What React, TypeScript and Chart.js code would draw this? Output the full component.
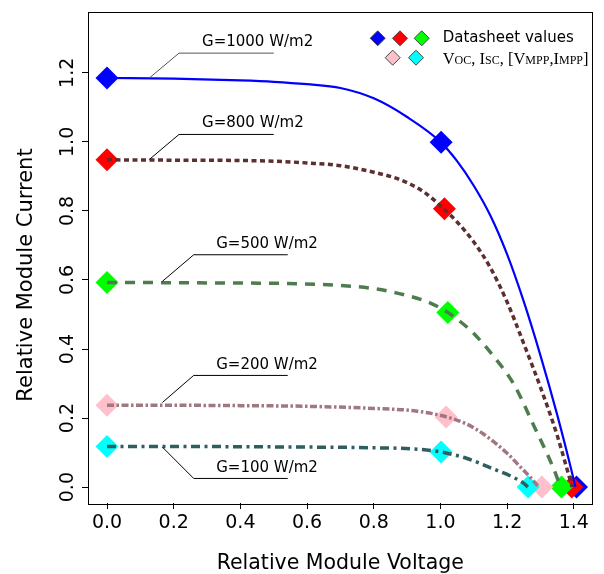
import React, { useEffect, useRef } from "react";
import { Chart, registerables } from "chart.js";

Chart.register(...registerables);

// ---------- data ----------
const xTicks = [0, 0.2, 0.4, 0.6, 0.8, 1.0, 1.2, 1.4];
const yTicks = [0, 0.2, 0.4, 0.6, 0.8, 1.0, 1.2];

const seriesLabels = ["G=1000 W/m2", "G=800 W/m2", "G=500 W/m2", "G=200 W/m2", "G=100 W/m2"];

const v1000 = [0, 0.2, 0.4, 0.5, 0.6, 0.7, 0.8, 0.9, 1.0, 1.05, 1.1, 1.15, 1.2, 1.25, 1.3, 1.35, 1.39, 1.405];
const i1000 = [1.185, 1.183, 1.178, 1.174, 1.167, 1.156, 1.126, 1.072, 1.0, 0.944, 0.873, 0.786, 0.674, 0.537, 0.381, 0.21, 0.06, 0.0];

const v800 = [0, 0.2, 0.4, 0.5, 0.6, 0.7, 0.8, 0.88, 0.95, 1.01, 1.05, 1.1, 1.15, 1.2, 1.25, 1.3, 1.35, 1.395];
const i800 = [0.948, 0.947, 0.946, 0.944, 0.939, 0.931, 0.912, 0.89, 0.855, 0.806, 0.768, 0.71, 0.635, 0.536, 0.415, 0.289, 0.15, 0.0];

const v500 = [0, 0.2, 0.4, 0.53, 0.7, 0.8, 0.9, 0.97, 1.02, 1.06, 1.1, 1.16, 1.22, 1.28, 1.34, 1.36];
const i500 = [0.593, 0.592, 0.591, 0.59, 0.584, 0.575, 0.555, 0.533, 0.507, 0.479, 0.445, 0.378, 0.298, 0.178, 0.052, 0.0];

const v200 = [0, 0.2, 0.4, 0.6, 0.8, 0.93, 1.02, 1.08, 1.13, 1.2, 1.24, 1.27, 1.295];
const i200 = [0.237, 0.237, 0.236, 0.234, 0.228, 0.22, 0.203, 0.182, 0.153, 0.098, 0.058, 0.028, 0.0];

const v100 = [0, 0.2, 0.4, 0.6, 0.8, 0.93, 1.0, 1.08, 1.155, 1.215, 1.25, 1.262];
const i100 = [0.118, 0.118, 0.117, 0.116, 0.114, 0.11, 0.102, 0.083, 0.054, 0.03, 0.011, 0.0];

// datasheet points (Isc at V=0, MPP, Voc at I=0)
const iscValues = [1.185, 0.948, 0.593, 0.237, 0.118];
const vmppValues = [1.002, 1.012, 1.022, 1.017, 1.002];
const imppValues = [0.999, 0.806, 0.506, 0.203, 0.102];
const vocValues = [1.408, 1.394, 1.363, 1.304, 1.263];

// ---------- styles ----------
const markerColors = ["#0000FF", "#FF0000", "#00FF00", "#FFC0CB", "#00FFFF"];
const lineColors = ["#0000FF", "#5C3030", "#4E7C4E", "#A07880", "#2E5E5E"];
const lineWidths = [2.2, 3.5, 3.5, 3.5, 3.5];
const lineDashes: number[][] = [[], [5, 3.5], [10, 8], [7, 2.5, 2.5, 2.5], [9, 4.5, 3, 4.5]];

// annotation geometry in data units: anchor -> elbow -> end, text position
const annotations = [
  { ax: 0.127, ay: 1.185, ex: 0.216, ey: 1.257, endX: 0.5, tx: 0.285, ty: 1.289, color: "#555" },
  { ax: 0.127, ay: 0.949, ex: 0.216, ey: 1.0215, endX: 0.5, tx: 0.285, ty: 1.055, color: "#000" },
  { ax: 0.166, ay: 0.596, ex: 0.26, ey: 0.673, endX: 0.542, tx: 0.3276, ty: 0.705, color: "#000" },
  { ax: 0.166, ay: 0.245, ex: 0.26, ey: 0.3235, endX: 0.542, tx: 0.3276, ty: 0.354, color: "#000" },
  { ax: 0.166, ay: 0.116, ex: 0.26, ey: 0.0251, endX: 0.542, tx: 0.3276, ty: 0.054, color: "#000" },
];

const curveV = [v1000, v800, v500, v200, v100];
const curveI = [i1000, i800, i500, i200, i100];

const SANS = "'DejaVu Sans', sans-serif";
const SERIF = "'Liberation Serif', 'DejaVu Serif', serif";

const overlayPlugin = {
  id: "overlay",
  afterDraw(chart: any) {
    const ctx = chart.ctx as CanvasRenderingContext2D;
    const { left, right, top, bottom } = chart.chartArea;
    const xs = chart.scales.x;
    const ys = chart.scales.y;
    ctx.save();

    // frame
    ctx.strokeStyle = "#000";
    ctx.lineWidth = 1;
    ctx.strokeRect(Math.round(left) + 0.5, Math.round(top) + 0.5, Math.round(right - left) - 1, Math.round(bottom - top));

    // y tick labels (rotated)
    ctx.fillStyle = "#000";
    ctx.font = `19px ${SANS}`;
    ctx.textAlign = "center";
    ctx.textBaseline = "middle";
    yTicks.forEach((v) => {
      const py = ys.getPixelForValue(v);
      ctx.save();
      ctx.translate(left - 20, py);
      ctx.rotate(-Math.PI / 2);
      ctx.fillText(v.toFixed(1), 0, 0);
      ctx.restore();
    });

    // axis titles
    ctx.font = `20.5px ${SANS}`;
    ctx.fillText("Relative Module Voltage", (left + right) / 2, 564);
    ctx.save();
    ctx.translate(27, 275);
    ctx.rotate(-Math.PI / 2);
    ctx.font = `21px ${SANS}`;
    ctx.fillText("Relative Module Current", 0, 0);
    ctx.restore();

    // curve annotations
    ctx.font = `15px ${SANS}`;
    ctx.textAlign = "left";
    annotations.forEach((a, k) => {
      ctx.lineWidth = 1;
      ctx.strokeStyle = a.color;
      ctx.beginPath();
      ctx.moveTo(xs.getPixelForValue(a.ax), ys.getPixelForValue(a.ay));
      ctx.lineTo(xs.getPixelForValue(a.ex), ys.getPixelForValue(a.ey));
      ctx.lineTo(xs.getPixelForValue(a.endX), ys.getPixelForValue(a.ey));
      ctx.stroke();
      ctx.fillStyle = "#000";
      ctx.fillText(seriesLabels[k], xs.getPixelForValue(a.tx), ys.getPixelForValue(a.ty));
    });

    // legend
    const diamond = (cx: number, cy: number, r: number, fill: string) => {
      ctx.beginPath();
      ctx.moveTo(cx - r, cy);
      ctx.lineTo(cx, cy - r);
      ctx.lineTo(cx + r, cy);
      ctx.lineTo(cx, cy + r);
      ctx.closePath();
      ctx.fillStyle = fill;
      ctx.fill();
      ctx.strokeStyle = "#444";
      ctx.lineWidth = 1;
      ctx.stroke();
    };
    diamond(377.7, 38.3, 7.5, markerColors[0]);
    diamond(400, 38.3, 7.5, markerColors[1]);
    diamond(421.7, 38.3, 7.5, markerColors[2]);
    diamond(392.7, 57.7, 7.5, markerColors[3]);
    diamond(416, 57.7, 7.5, markerColors[4]);

    ctx.fillStyle = "#000";
    ctx.font = `15px ${SANS}`;
    ctx.textBaseline = "middle";
    ctx.fillText("Datasheet values", 442.7, 38.5);

    const segs: [string, boolean][] = [
      ["V", false], ["OC", true], [", I", false], ["SC", true], [", [V", false],
      ["MPP", true], [",I", false], ["MPP", true], ["]", false],
    ];
    ctx.textBaseline = "alphabetic";
    let tx = 442.7;
    const base = 63.5;
    segs.forEach(([s, small]) => {
      ctx.font = small ? `12px ${SERIF}` : `16.5px ${SERIF}`;
      ctx.fillText(s, tx, base);
      tx += ctx.measureText(s).width;
    });

    ctx.restore();
  },
};

export default function App() {
  const ref = useRef<HTMLCanvasElement | null>(null);

  useEffect(() => {
    if (!ref.current) return;
    const datasets: any[] = [];
    // curves (drawn on top of markers: low order)
    curveV.forEach((vs, k) => {
      datasets.push({
        type: "line",
        label: seriesLabels[k],
        data: vs.map((v, j) => ({ x: v, y: curveI[k][j] })),
        borderColor: lineColors[k],
        borderWidth: lineWidths[k],
        borderDash: lineDashes[k],
        borderCapStyle: "butt",
        pointRadius: 0,
        fill: false,
        cubicInterpolationMode: "monotone",
        order: k,
      });
    });
    // datasheet markers
    markerColors.forEach((c, k) => {
      datasets.push({
        type: "scatter",
        label: "datasheet " + seriesLabels[k],
        data: [
          { x: 0, y: iscValues[k] },
          { x: vmppValues[k], y: imppValues[k] },
          { x: vocValues[k], y: 0 },
        ],
        pointStyle: "rectRot",
        pointRadius: 11.5,
        pointHoverRadius: 11.5,
        backgroundColor: c,
        borderWidth: 0,
        showLine: false,
        clip: false,
        order: 20 - k,
      });
    });

    const chart = new Chart(ref.current, {
      type: "line",
      data: { datasets },
      options: {
        animation: false,
        responsive: false,
        events: [],
        layout: { padding: { top: 10, right: 6, left: 0, bottom: 0 } },
        plugins: { legend: { display: false }, tooltip: { enabled: false } },
        scales: {
          x: {
            type: "linear",
            min: -0.057,
            max: 1.456,
            afterBuildTicks: (s: any) => {
              s.ticks = xTicks.map((v) => ({ value: v }));
            },
            afterFit: (s: any) => {
              s.height = 71;
            },
            grid: { display: true, drawOnChartArea: false, drawTicks: true, tickLength: 6, color: "#000", lineWidth: 1 },
            border: { display: false },
            ticks: {
              color: "#000",
              font: { family: "DejaVu Sans", size: 19 },
              padding: 3,
              maxRotation: 0,
              autoSkip: false,
              callback: (v: any) => Number(v).toFixed(1),
            },
          },
          y: {
            type: "linear",
            min: -0.046,
            max: 1.3776,
            afterBuildTicks: (s: any) => {
              s.ticks = yTicks.map((v) => ({ value: v }));
            },
            afterFit: (s: any) => {
              s.width = 88;
            },
            grid: { display: true, drawOnChartArea: false, drawTicks: true, tickLength: 6, color: "#000", lineWidth: 1 },
            border: { display: false },
            ticks: { display: false },
          },
        },
      } as any,
      plugins: [overlayPlugin],
    });
    return () => chart.destroy();
  }, []);

  return (
    <div style={{ position: "absolute", left: 0, top: 0, width: 604, height: 574, background: "#fff" }}>
      <canvas ref={ref} width={604} height={574} style={{ width: 604, height: 574, display: "block" }} />
    </div>
  );
}
